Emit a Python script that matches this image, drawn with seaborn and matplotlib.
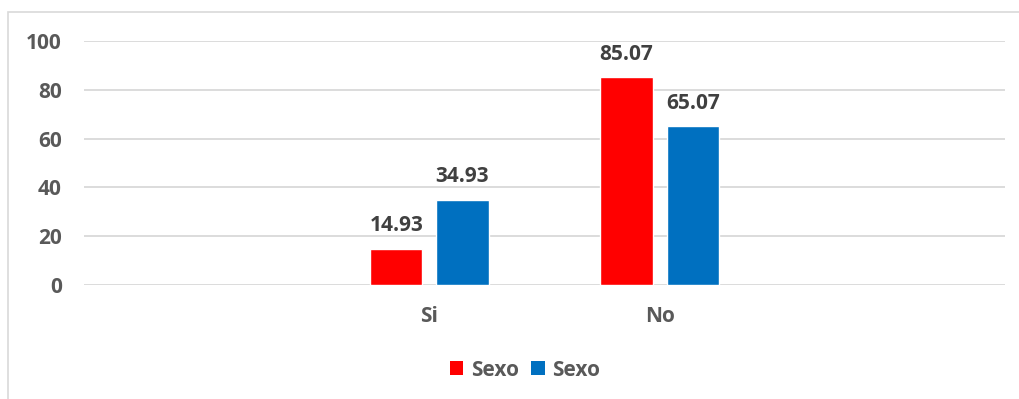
import matplotlib
matplotlib.use("Agg")
import matplotlib.pyplot as plt
from matplotlib.patches import Rectangle, Patch
import seaborn as sns
import pandas as pd

categories = ["Si", "No"]
series_names = ["Sexo", "Sexo"]
red_values = [14.93, 85.07]
blue_values = [34.93, 65.07]
yticks = [0, 20, 40, 60, 80, 100]
colors = ["#FF0000", "#0070C0"]

sns.set_theme(style="white")
plt.rcParams["font.family"] = ["Open Sans", "DejaVu Sans"]
plt.rcParams["font.weight"] = "bold"

df = pd.DataFrame({
    "cat": categories * 2,
    "val": red_values + blue_values,
    "serie": ["s1"] * len(categories) + ["s2"] * len(categories),
})

fig = plt.figure(figsize=(10.20, 3.99), dpi=100)
ax = fig.add_axes([84/1020, 1 - 285/399, (1005-84)/1020, (285-41)/399])

sns.barplot(data=df, x="cat", y="val", hue="serie", order=categories,
            palette=colors, width=0.574, gap=0.21, ax=ax, legend=False,
            saturation=1, errorbar=None)

ax.set_xlim(-1.5, 2.5)
ax.set_ylim(0, 100)
ax.set_yticks(yticks)
ax.set_yticklabels([str(t) for t in yticks], fontsize=15, color="#595959", fontweight="bold")
ax.tick_params(axis="y", length=0, pad=16)
ax.tick_params(axis="x", length=0, pad=15)
for lbl in ax.get_xticklabels():
    lbl.set_fontsize(15)
    lbl.set_color("#595959")
    lbl.set_fontweight("bold")
ax.set_xlabel("")
ax.set_ylabel("")
ax.yaxis.grid(True, color="#D9D9D9", linewidth=1.3)
ax.set_axisbelow(True)
for s in ax.spines.values():
    s.set_visible(False)

for cont in ax.containers:
    ax.bar_label(cont, labels=[f"{v:.2f}" for v in cont.datavalues],
                 padding=9, fontsize=15, color="#404040", fontweight="bold")

handles = [Patch(facecolor=c, edgecolor="none") for c in colors]
fig.legend(handles, series_names, loc="center", bbox_to_anchor=(525/1020, 1 - 370/399),
           ncol=2, frameon=False, handlelength=0.65, handleheight=0.65,
           handletextpad=0.35, columnspacing=0.6,
           prop={"size": 15, "weight": "bold"}, labelcolor="#595959")

fig.patches.append(Rectangle((8/1020, -0.1), 1.2, 1.1 - 12/399, transform=fig.transFigure,
                             fill=False, edgecolor="#D9D9D9", linewidth=1.2))

fig.savefig("out.png", dpi=100, facecolor="white")
